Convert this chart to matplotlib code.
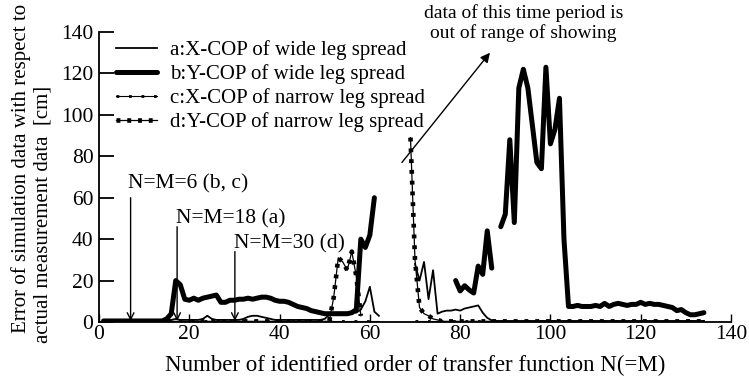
import numpy as np
import matplotlib
matplotlib.use("Agg")
import matplotlib.pyplot as plt

plt.rcParams['font.family'] = ['Liberation Serif', 'DejaVu Serif']

nan = np.nan
N = np.arange(1, 135)

# a: X-COP of wide leg spread
a_vals = ([0.8] * 15 + [1.0, 1.5, 1, 1, 1, 1, 1, 1.5, 3, 1.5] + [1] * 6 +
          [1.5, 2.5, 3, 3, 2.5, 2, 1.5] + [1] * 11 +
          [1.5, 3.5, 4.5, 4.5, 4.5, 4.5, 4.5, 4.5, 6, 10, 17, 5, 3] +
          [nan] * 7 +
          [28, 20, 29, 11, 25, 4, 5, 5.5, 5.5, 6, 5.5, 6.5, 7, 7.5, 8, 4.5, 2, 0.8] +
          [0.5] * 47)

# b: Y-COP of wide leg spread
b_vals = ([0.5] * 14 + [1.5, 4, 20, 18, 11] +
          [10.5, 11.5, 10.5, 11.5, 12, 12.5, 13, 9.5, 9.5, 10.5, 10.5, 11, 11, 11.5,
           11, 11.5, 12, 12, 11.5, 10.5, 10, 10, 9.5, 8.5, 7.5, 7, 6.5, 5.5, 5, 4.5,
           4, 4, 4, 4, 4, 4, 4.5, 6, 40, 36, 42, 60] +
          [nan] * 17 +
          [20, 15, 17.5, 15.5, 14, 27, 23, 44, 26, nan, 46, 52, 88, 48, 113, 122, 113,
           95, 77, 74, 123, 86, 93, 108, 40, 7.5] +
          [7.5, 8, 7.5, 7.5, 7.5, 8, 7.5, 9, 7.5, 8.5, 9, 8.5, 8, 8.5, 8.5, 9.5, 8.5,
           9, 8.5, 8.5, 8, 7.5, 7, 5.5, 6, 4.5, 3.5, 3.5, 4, 4.5])

# c: X-COP of narrow leg spread
c_vals = [0.3] * 62 + [nan] * 7 + [0.3] * 65

# d: Y-COP of narrow leg spread
d_vals = ([0.3] * 51 + [12, 31, 29, 25, 34, 22, 3] + [nan] * 10 +
          [89, 30, 7, 4, 3, 1.5, 1] + [0.3] * 59)

labels = ["a:X-COP of wide leg spread", "b:Y-COP of wide leg spread",
          "c:X-COP of narrow leg spread", "d:Y-COP of narrow leg spread"]

x_ticks = [0, 20, 40, 60, 80, 100, 120, 140]
y_ticks = [0, 20, 40, 60, 80, 100, 120, 140]

fig = plt.figure(figsize=(7.49, 3.78), dpi=100)
ax = fig.add_axes([99 / 749, 1 - 322 / 378, 632 / 749, 290 / 378])

# d: thin line with square marks spaced evenly along the path
d_line, = ax.plot(N, d_vals, color='black', lw=0.9, zorder=2)
d_sq, = ax.plot(N, d_vals, color='black', lw=3.3, dashes=(0.85, 1.5),
                dash_capstyle='butt', zorder=2)
# c: thin line with small marks
c_line, = ax.plot(N, c_vals, color='black', lw=0.8, zorder=2)
c_sq, = ax.plot(N, c_vals, color='black', lw=2.0, dashes=(1.0, 3.5),
                dash_capstyle='butt', zorder=2)
a_line, = ax.plot(N, a_vals, color='black', lw=1.3, zorder=3)
b_line, = ax.plot(N, b_vals, color='black', lw=3.6, solid_joinstyle='round',
                  solid_capstyle='round', zorder=4)

ax.set_xlim(0, 140)
ax.set_ylim(0, 140)
ax.set_xticks(x_ticks)
ax.set_yticks(y_ticks)
ax.spines['top'].set_visible(False)
ax.spines['right'].set_visible(False)
ax.spines['left'].set_linewidth(1.3)
ax.spines['bottom'].set_linewidth(1.3)
ax.tick_params(axis='y', direction='in', length=11, width=1.3, labelsize=15.5, pad=4)
ax.tick_params(axis='x', direction='in', length=6, width=1.0, labelsize=15.5, pad=2)

ax.set_xlabel("Number of identified order of transfer function N(=M)", fontsize=16.5,
              labelpad=8)
fig.text(21 / 749, 1 - 333 / 378, "Error of simulation data with respect to",
         rotation=90, fontsize=15, ha='center', va='bottom')
fig.text(43 / 749, 1 - 343 / 378, "actual measurement data  [cm]",
         rotation=90, fontsize=15, ha='center', va='bottom')

ax.legend([a_line, b_line, (c_line, c_sq), (d_line, d_sq)], labels, loc='upper left',
          bbox_to_anchor=(0.013, 1.0), frameon=False, fontsize=15, handlelength=2.0,
          handletextpad=0.6, labelspacing=0.2, borderpad=0.2, borderaxespad=0.2)

arrow_kw = dict(arrowstyle='->', color='black', lw=1.0, mutation_scale=12,
                shrinkA=0, shrinkB=0)
ax.annotate("", xy=(7, 0.5), xytext=(7, 60), arrowprops=arrow_kw)
ax.text(6.5, 62, "N=M=6 (b, c)", fontsize=15.5, ha='left', va='bottom')
ax.annotate("", xy=(17.3, 0.5), xytext=(17.3, 46), arrowprops=arrow_kw)
ax.text(17.0, 45, "N=M=18 (a)", fontsize=15.5, ha='left', va='bottom')
ax.annotate("", xy=(30.1, 0.5), xytext=(30.1, 34), arrowprops=arrow_kw)
ax.text(30.0, 33, "N=M=30 (d)", fontsize=15.5, ha='left', va='bottom')

ax.annotate("", xy=(86.6, 130), xytext=(67.1, 77), annotation_clip=False,
            arrowprops=dict(arrowstyle='-|>', color='black', lw=1.0,
                            mutation_scale=14, shrinkA=0, shrinkB=0))
ax.text(94, 135, "data of this time period is\nout of range of showing", fontsize=14,
        ha='center', va='bottom', linespacing=1.2, clip_on=False)

fig.savefig("out.png", dpi=100)
